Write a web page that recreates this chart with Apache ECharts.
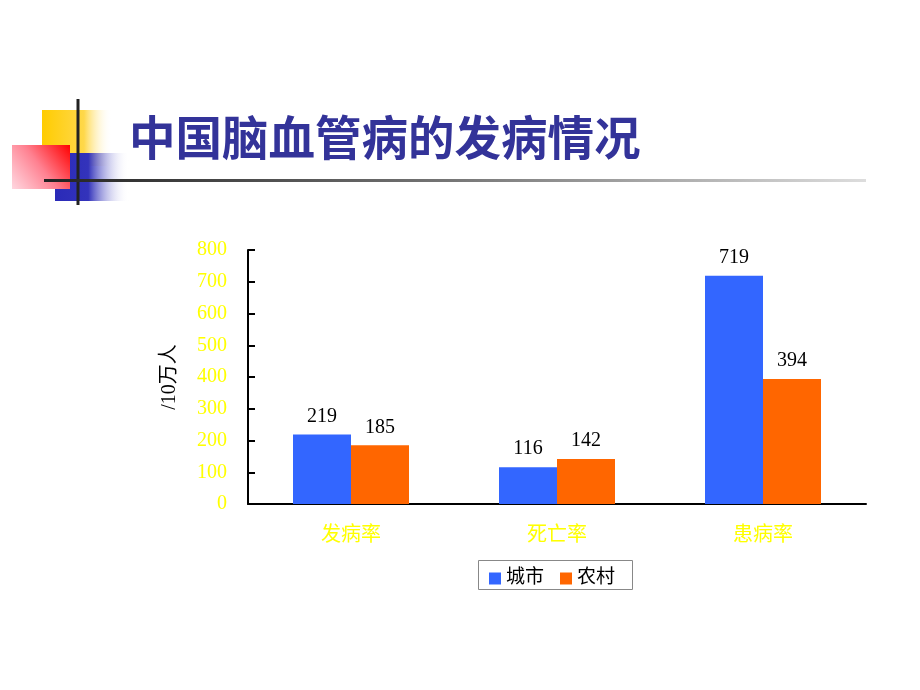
<!DOCTYPE html>
<html><head><meta charset="utf-8">
<script src="https://cdn.jsdelivr.net/npm/echarts@6/dist/echarts.min.js"></script>
<style>html,body{margin:0;padding:0;background:#fff}#c{width:920px;height:690px}</style>
</head><body><div id="c"></div>
<script>
var categories = ['发病率', '死亡率', '患病率'];
var cityValues = [219, 116, 719];
var ruralValues = [185, 142, 394];
var seriesNames = ['城市', '农村'];
var yTicks = { min: 0, max: 800, interval: 100 };

var FONT = '"Liberation Serif", "Noto Sans CJK SC", serif';
var chart = echarts.init(document.getElementById('c'));
chart.setOption({
  backgroundColor: '#ffffff',
  animation: false,
  graphic: [
    { type: 'rect', shape: { x: 42, y: 110, width: 70, height: 56 }, style: { fill: new echarts.graphic.LinearGradient(0, 0, 1, 0, [{offset: 0, color: '#FFCC00'}, {offset: 0.6, color: '#FFD84a'}, {offset: 1, color: 'rgba(255,255,255,0)'}]) } },
    { type: 'rect', shape: { x: 55, y: 153, width: 74, height: 48 }, style: { fill: new echarts.graphic.LinearGradient(0, 0, 1, 0, [{offset: 0, color: '#2a2ab8'}, {offset: 0.45, color: '#3333bb'}, {offset: 1, color: 'rgba(255,255,255,0)'}]) } },
    { type: 'rect', shape: { x: 12, y: 145, width: 58, height: 44 }, style: { fill: new echarts.graphic.LinearGradient(1, 0, 0, 1, [{offset: 0, color: '#FF0000'}, {offset: 0.5, color: '#FF8090'}, {offset: 1, color: 'rgba(255,210,220,0.9)'}]) } },
    { type: 'line', shape: { x1: 78, y1: 99, x2: 78, y2: 205 }, style: { stroke: '#222', lineWidth: 3 } },
    { type: 'rect', shape: { x: 44, y: 179, width: 822, height: 3 }, style: { fill: new echarts.graphic.LinearGradient(0, 0, 1, 0, [{offset: 0, color: '#222'}, {offset: 0.5, color: '#777'}, {offset: 1, color: '#ddd'}]) } },
    { type: 'text', left: 129, top: 114, style: { text: '中国脑血管病的发病情况', fill: '#333399', font: 'bold 46.5px "Noto Sans CJK SC"' } },
    { type: 'rect', shape: { x: 478.5, y: 560.5, width: 154, height: 29 }, style: { fill: '#fff', stroke: '#888', lineWidth: 1 }, z: 0 }
  ],
  legend: {
    data: seriesNames,
    left: 484, top: 564,
    itemWidth: 12, itemHeight: 12, itemGap: 16,
    icon: 'rect',
    textStyle: { fontFamily: FONT, fontSize: 19, color: '#000' },
    z: 10
  },
  grid: { left: 248, right: 54, top: 250, bottom: 186, containLabel: false },
  xAxis: {
    type: 'category',
    data: categories,
    axisLine: { lineStyle: { color: '#000', width: 2 } },
    axisTick: { inside: true, length: 6, lineStyle: { color: '#000', width: 2 } },
    axisLabel: { color: '#FFFF00', fontFamily: FONT, fontSize: 20, margin: 22 }
  },
  yAxis: {
    type: 'value',
    min: yTicks.min, max: yTicks.max, interval: yTicks.interval,
    name: '/10万人',
    nameLocation: 'middle',
    nameGap: 68,
    nameRotate: 90,
    nameTextStyle: { fontFamily: FONT, fontSize: 20, color: '#000' },
    axisLine: { show: true, lineStyle: { color: '#000', width: 2 } },
    axisTick: { show: true, inside: true, length: 7, lineStyle: { color: '#000', width: 2 } },
    splitLine: { show: false },
    axisLabel: { color: '#FFFF00', fontFamily: FONT, fontSize: 20, margin: 21 }
  },
  series: [
    { name: seriesNames[0], type: 'bar', data: cityValues, barWidth: 58, barGap: '0%',
      itemStyle: { color: '#3366FF' },
      label: { show: true, position: 'top', distance: 8, color: '#000', fontFamily: FONT, fontSize: 20 } },
    { name: seriesNames[1], type: 'bar', data: ruralValues, barWidth: 58, barGap: '0%',
      itemStyle: { color: '#FF6600' },
      label: { show: true, position: 'top', distance: 8, color: '#000', fontFamily: FONT, fontSize: 20 } }
  ]
});
</script></body></html>
